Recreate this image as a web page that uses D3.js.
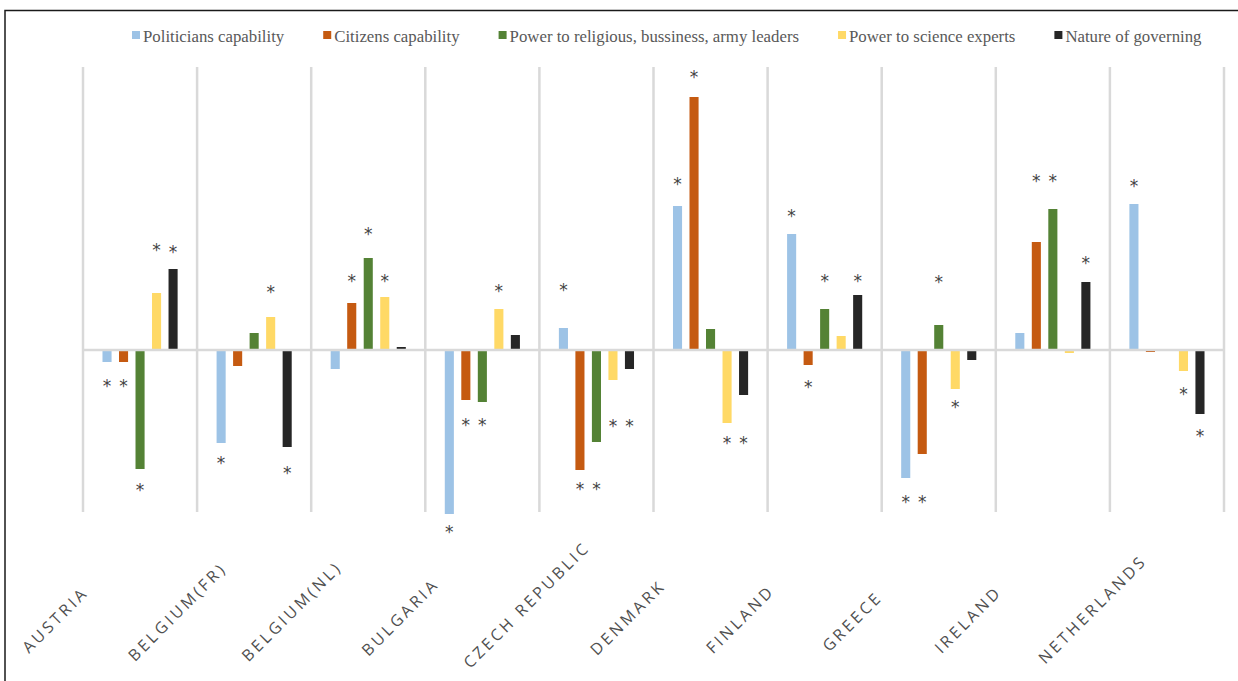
<!DOCTYPE html>
<html>
<head>
<meta charset="utf-8">
<script src="https://cdn.jsdelivr.net/npm/d3@7"></script>
<style>
  html, body { margin: 0; padding: 0; background: #fff; }
  svg { display: block; }
</style>
</head>
<body>
<div id="chart"></div>
<script>
const countries = ["AUSTRIA", "BELGIUM(FR)", "BELGIUM(NL)", "BULGARIA", "CZECH REPUBLIC",
                   "DENMARK", "FINLAND", "GREECE", "IRELAND", "NETHERLANDS"];

const seriesNames = [
    "Politicians capability",
    "Citizens capability",
    "Power to religious, bussiness, army leaders",
    "Power to science experts",
    "Nature of governing"
];

// bar values per series, one per country
const politicians = [-0.12, -0.93, -0.19, -1.64, 0.22, 1.44, 1.16, -1.28, 0.17, 1.46];
const citizens    = [-0.12, -0.16, 0.47, -0.50, -1.20, 2.53, -0.15, -1.04, 1.08, -0.02];
const leaders     = [-1.19, 0.17, 0.92, -0.52, -0.92, 0.21, 0.41, 0.25, 1.41, 0];
const experts     = [0.57, 0.33, 0.53, 0.41, -0.30, -0.73, 0.14, -0.39, -0.03, -0.21];
const governing   = [0.81, -0.97, 0.03, 0.15, -0.19, -0.45, 0.55, -0.10, 0.68, -0.64];

// where the significance asterisk sits (same units), null = none
const politiciansStar = [-0.32, -1.09, null, -1.78, 0.64, 1.70, 1.38, -1.48, null, 1.68];
const citizensStar    = [-0.32, null, 0.73, -0.71, -1.35, 2.77, -0.33, -1.48, 1.73, null];
const leadersStar     = [-1.36, null, 1.20, -0.71, -1.35, null, 0.73, 0.72, 1.73, null];
const expertsStar     = [1.04, 0.62, 0.73, 0.63, -0.72, -0.89, null, -0.53, null, -0.40];
const governingStar   = [1.02, -1.19, null, null, -0.72, -0.89, 0.73, null, 0.91, -0.82];

const colours = ["#9dc3e6", "#c55a11", "#548235", "#ffd966", "#262626"];

const values = [politicians, citizens, leaders, experts, governing];
const stars = [politiciansStar, citizensStar, leadersStar, expertsStar, governingStar];

const W = 1238, H = 681;

const svg = d3.select("#chart").append("svg")
    .attr("width", W)
    .attr("height", H);

// frame
svg.append("rect")
    .attr("x", 5)
    .attr("y", 10.5)
    .attr("width", W + 20)
    .attr("height", H + 20)
    .attr("fill", "none")
    .attr("stroke", "#1a1a1a")
    .attr("stroke-width", 1.5);

const x0 = d3.scaleBand()
    .domain(countries)
    .range([83, 1224])
    .padding(0);

const x1 = d3.scaleBand()
    .domain(d3.range(seriesNames.length))
    .range([0, x0.bandwidth()])
    .paddingInner(0.45)
    .paddingOuter(1.18);

const y = d3.scaleLinear()
    .domain([-1.62, 2.83])
    .range([512, 67]);

// bars
countries.forEach((c, ci) => {
    const g = svg.append("g")
        .attr("transform", `translate(${x0(c)},0)`);

    seriesNames.forEach((s, si) => {
        const v = values[si][ci];
        if (v === 0) return;
        g.append("rect")
            .attr("x", x1(si))
            .attr("y", y(Math.max(0, v)))
            .attr("width", x1.bandwidth())
            .attr("height", Math.abs(y(v) - y(0)))
            .attr("fill", colours[si]);

        const st = stars[si][ci];
        if (st !== null) {
            g.append("text")
                .attr("x", x1(si) + x1.bandwidth() / 2)
                .attr("y", y(st))
                .attr("dy", "0.6em")
                .attr("text-anchor", "middle")
                .attr("font-family", "'DejaVu Sans', sans-serif")
                .attr("font-size", "17px")
                .attr("fill", "#444444")
                .text("*");
        }
    });
});

// zero line and category separators
svg.append("line")
    .attr("x1", x0.range()[0])
    .attr("x2", x0.range()[1])
    .attr("y1", y(0))
    .attr("y2", y(0))
    .attr("stroke", "#d9d9d9")
    .attr("stroke-width", 2.5);

const bounds = countries.map(c => x0(c)).concat([x0.range()[1]]);
svg.selectAll(".sep")
    .data(bounds)
    .enter()
    .append("line")
    .attr("class", "sep")
    .attr("x1", d => d)
    .attr("x2", d => d)
    .attr("y1", y.range()[1])
    .attr("y2", y.range()[0])
    .attr("stroke", "#d9d9d9")
    .attr("stroke-width", 2.5);

// category labels, rotated; anchored a quarter of the way along the text
svg.selectAll(".cat")
    .data(countries)
    .enter()
    .append("text")
    .attr("class", "cat")
    .attr("transform", d => `translate(${x0(d) + x0.bandwidth() / 2 - 100},635) rotate(-45)`)
    .attr("text-anchor", "start")
    .attr("dy", "0.35em")
    .attr("font-family", "'Open Sans', sans-serif")
    .attr("font-size", "16px")
    .attr("letter-spacing", "3.1px")
    .attr("fill", "#505050")
    .text(d => d)
    .attr("dx", function() { return -0.25 * this.getComputedTextLength(); });

// legend
const legend = svg.append("g").attr("class", "legend");
let lx = 132;
seriesNames.forEach((s, i) => {
    legend.append("rect")
        .attr("x", lx)
        .attr("y", 31)
        .attr("width", 8)
        .attr("height", 8)
        .attr("fill", colours[i]);
    const t = legend.append("text")
        .attr("x", lx + 11)
        .attr("y", 41.5)
        .attr("font-family", "'Liberation Serif', 'Times New Roman', serif")
        .attr("font-size", "16.8px")
        .attr("fill", "#595959")
        .text(s);
    lx += 11 + t.node().getComputedTextLength() + 39;
});
</script>
</body>
</html>
